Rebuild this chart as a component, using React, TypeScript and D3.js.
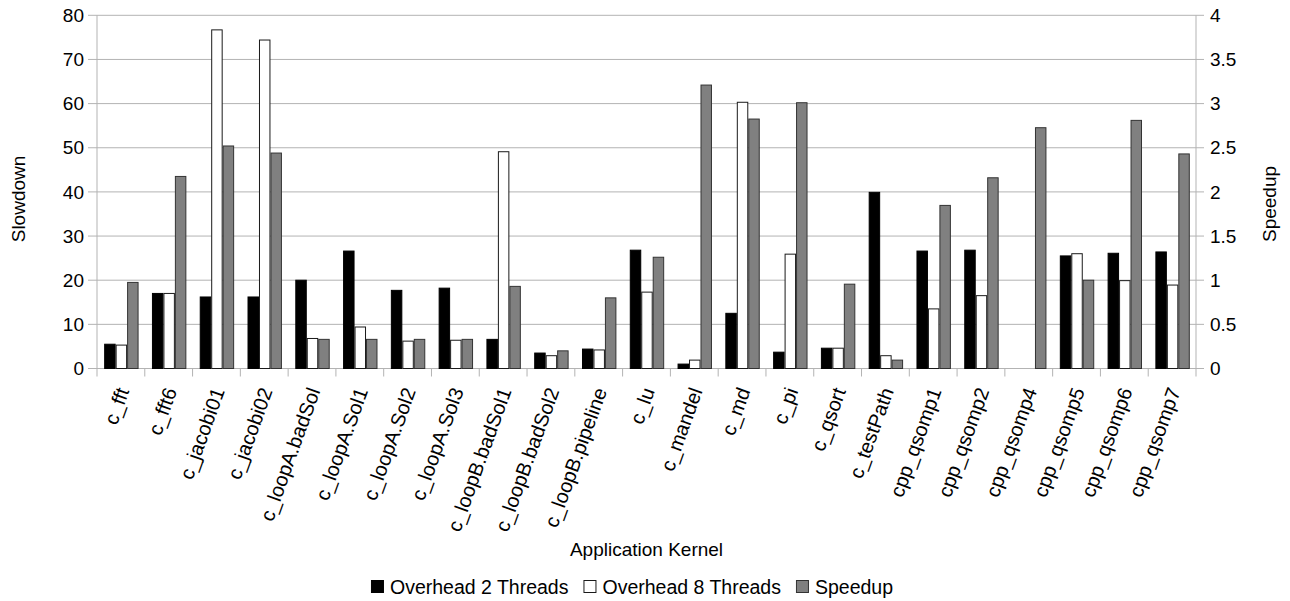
import React, { useEffect, useRef } from 'react';
import * as d3 from 'd3';

const categories = [
  'c_fft', 'c_fft6', 'c_jacobi01', 'c_jacobi02', 'c_loopA.badSol', 'c_loopA.Sol1',
  'c_loopA.Sol2', 'c_loopA.Sol3', 'c_loopB.badSol1', 'c_loopB.badSol2', 'c_loopB.pipeline',
  'c_lu', 'c_mandel', 'c_md', 'c_pi', 'c_qsort', 'c_testPath', 'cpp_qsomp1', 'cpp_qsomp2',
  'cpp_qsomp4', 'cpp_qsomp5', 'cpp_qsomp6', 'cpp_qsomp7',
];

// slowdown (left axis)
const overhead2 = [5.5, 17.0, 16.2, 16.2, 20.0, 26.6, 17.7, 18.2, 6.6, 3.5, 4.4, 26.8, 1.0, 12.5, 3.7, 4.6, 39.9, 26.6, 26.8, 0, 25.5, 26.1, 26.4];
const overhead8 = [5.3, 17.0, 76.7, 74.4, 6.8, 9.4, 6.2, 6.4, 49.1, 2.9, 4.2, 17.3, 1.9, 60.3, 25.9, 4.6, 2.9, 13.5, 16.5, 0, 26.0, 19.9, 18.9];
// speedup (right axis)
const speedup = [0.975, 2.175, 2.52, 2.44, 0.33, 0.33, 0.33, 0.33, 0.93, 0.2, 0.8, 1.26, 3.21, 2.825, 3.01, 0.955, 0.095, 1.847, 2.16, 2.727, 1.0, 2.81, 2.43];

const leftTicks = [0, 10, 20, 30, 40, 50, 60, 70, 80];
const rightTicks = [0, 0.5, 1, 1.5, 2, 2.5, 3, 3.5, 4];

const seriesNames = ['Overhead 2 Threads', 'Overhead 8 Threads', 'Speedup'];
const seriesFill = ['#000000', '#ffffff', '#808080'];
const seriesStroke = ['#000000', '#1a1a1a', '#333333'];

const W = 1290;
const H = 601;
const FONT = '"Liberation Sans", Arial, sans-serif';

const App: React.FC = () => {
  const svgRef = useRef<SVGSVGElement>(null);

  useEffect(() => {
    if (!svgRef.current) return;
    const svg = d3.select(svgRef.current);
    svg.selectAll('*').remove();

    const left = 97, right = 1196, top = 15.3, bottom = 368.5;

    const x0 = d3.scaleBand<string>().domain(categories).range([left, right]).padding(0);
    const bw = x0.bandwidth();
    const x1 = d3.scaleBand<number>().domain([0, 1, 2]).range([bw * 0.15, bw * 0.87]).padding(0);
    const yL = d3.scaleLinear().domain([0, 80]).range([bottom, top]);
    const yR = d3.scaleLinear().domain([0, 4]).range([bottom, top]);

    // gridlines
    svg.append('g').selectAll('line').data(leftTicks).enter().append('line')
      .attr('x1', left - 9).attr('x2', right + 8)
      .attr('y1', d => yL(d)).attr('y2', d => yL(d))
      .attr('stroke', '#b3b3b3').attr('stroke-width', 1);

    // axes lines
    svg.append('line').attr('x1', left).attr('x2', left).attr('y1', top).attr('y2', bottom + 8)
      .attr('stroke', '#b3b3b3');
    svg.append('line').attr('x1', right).attr('x2', right).attr('y1', top).attr('y2', bottom + 8)
      .attr('stroke', '#b3b3b3');
    // category ticks
    svg.append('g').selectAll('line').data(categories.slice(1)).enter().append('line')
      .attr('x1', d => x0(d)!).attr('x2', d => x0(d)!)
      .attr('y1', bottom).attr('y2', bottom + 8)
      .attr('stroke', '#b3b3b3');

    // bars
    const data = categories.map((c, i) => ({ c, vals: [yL(overhead2[i]), yL(overhead8[i]), yR(speedup[i])], raw: [overhead2[i], overhead8[i], speedup[i]] }));
    const grp = svg.append('g').selectAll('g').data(data).enter().append('g')
      .attr('transform', d => `translate(${x0(d.c)},0)`);
    grp.selectAll('rect').data(d => d.vals.map((v, k) => ({ v, k, raw: d.raw[k] })).filter(e => e.raw > 0))
      .enter().append('rect')
      .attr('x', d => x1(d.k)! + 0.5)
      .attr('width', x1.bandwidth() - 1)
      .attr('y', d => d.v)
      .attr('height', d => bottom - d.v)
      .attr('fill', d => seriesFill[d.k])
      .attr('stroke', d => seriesStroke[d.k])
      .attr('stroke-width', 1);

    // left tick labels
    svg.append('g').selectAll('text').data(leftTicks).enter().append('text')
      .attr('x', 84).attr('y', d => yL(d)).attr('dy', '0.35em')
      .attr('text-anchor', 'end').attr('font-family', FONT).attr('font-size', 19).attr('fill', '#000')
      .text(d => d);
    // right tick labels
    svg.append('g').selectAll('text').data(rightTicks).enter().append('text')
      .attr('x', 1210).attr('y', d => yR(d)).attr('dy', '0.35em')
      .attr('text-anchor', 'start').attr('font-family', FONT).attr('font-size', 19).attr('fill', '#000')
      .text(d => d);

    // category labels
    svg.append('g').selectAll('text').data(categories).enter().append('text')
      .attr('transform', d => `translate(${x0(d)! + bw / 2 + 2},${bottom + 20}) rotate(-70)`)
      .attr('text-anchor', 'end').attr('dy', '0.35em')
      .attr('font-family', FONT).attr('font-size', 20).attr('fill', '#000')
      .text(d => d);

    // axis titles
    svg.append('text').attr('transform', `translate(25,199) rotate(-90)`)
      .attr('text-anchor', 'middle').attr('font-family', FONT).attr('font-size', 19).text('Slowdown');
    svg.append('text').attr('transform', `translate(1276,204) rotate(-90)`)
      .attr('text-anchor', 'middle').attr('font-family', FONT).attr('font-size', 19).text('Speedup');
    svg.append('text').attr('x', (left + right) / 2).attr('y', 556)
      .attr('text-anchor', 'middle').attr('font-family', FONT).attr('font-size', 19).text('Application Kernel');

    // legend, laid out from measured text widths
    const lg = svg.append('g');
    const items = seriesNames.map((name, i) => {
      const g = lg.append('g');
      g.append('rect').attr('x', 0.5).attr('y', 0.5).attr('width', 12).attr('height', 12)
        .attr('fill', seriesFill[i]).attr('stroke', seriesStroke[i]);
      const t = g.append('text').attr('x', 19).attr('y', 7).attr('dy', '0.35em')
        .attr('font-family', FONT).attr('font-size', 19.5).text(name);
      const w = (t.node() as SVGTextElement).getComputedTextLength();
      return { g, w: 19 + w };
    });
    const gap = 15;
    const total = d3.sum(items, d => d.w) + gap * (items.length - 1);
    let cx = 632 - total / 2;
    items.forEach(it => {
      it.g.attr('transform', `translate(${cx},580)`);
      cx += it.w + gap;
    });
  }, []);

  return <svg ref={svgRef} width={W} height={H} style={{ display: 'block', position: 'absolute', left: 0, top: 0, background: '#fff' }} />;
};

export default App;
